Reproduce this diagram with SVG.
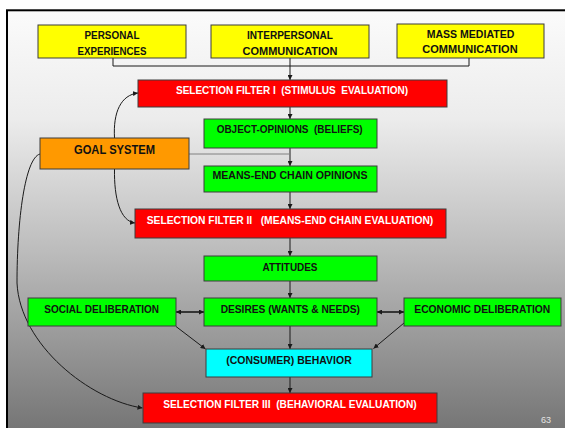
<svg xmlns="http://www.w3.org/2000/svg" width="565" height="428" viewBox="0 0 565 428">
  <defs>
    <linearGradient id="bg" x1="0" y1="10" x2="0" y2="428" gradientUnits="userSpaceOnUse">
      <stop offset="0" stop-color="#fbfbfb"/>
      <stop offset="0.26" stop-color="#ececec"/>
      <stop offset="0.57" stop-color="#bdbdbd"/>
      <stop offset="1" stop-color="#767676"/>
    </linearGradient>
    <marker id="arr" viewBox="0 0 10 10" refX="10" refY="5" markerWidth="5" markerHeight="5" orient="auto-start-reverse" markerUnits="userSpaceOnUse">
      <path d="M0,0 L10,5 L0,10 Z" fill="#1a1a1a"/>
    </marker>
    <style>
      .box { stroke: #3c3c3c; stroke-width: 1; }
      .yellow { fill: #ffff00; }
      .red { fill: #ff0000; }
      .green { fill: #00ff00; }
      .orange { fill: #ff9900; }
      .cyan { fill: #00ffff; }
      text { font-family: "Liberation Sans", Arial, sans-serif; font-weight: bold; font-size: 10.8px; text-anchor: middle; }
      .dark { fill: #111111; }
      .light { fill: #ffffff; }
      .link { fill: none; stroke: #1a1a1a; stroke-width: 1; }
      .thick { stroke-width: 1.6; }
      .grey { stroke: #808080; }
    </style>
  </defs>

  <!-- slide frame -->
  <rect x="0" y="0" width="565" height="428" fill="#ffffff"/>
  <rect x="7" y="10.3" width="600" height="500" fill="url(#bg)" stroke="#000000" stroke-width="2"/>

  <!-- connectors -->
  <g id="connectors">
    <path class="link" d="M113,58 V66 H469 V58"/>
    <path class="link" d="M290,58 V80" marker-end="url(#arr)"/>
    <path class="link" d="M290,107 V119" marker-end="url(#arr)"/>
    <path class="link" d="M290,148 V166" marker-end="url(#arr)"/>
    <path class="link grey" d="M189,154 H290"/>
    <path class="link" d="M290,192 V209" marker-end="url(#arr)"/>
    <path class="link" d="M290,238 V256" marker-end="url(#arr)"/>
    <path class="link" d="M290,281 V298" marker-end="url(#arr)"/>
    <path class="link" d="M290,326 V349" marker-end="url(#arr)"/>
    <path class="link" d="M290,377 V393" marker-end="url(#arr)"/>
    <path class="link thick" d="M176,312 H204" marker-start="url(#arr)" marker-end="url(#arr)"/>
    <path class="link thick" d="M377,312 H404" marker-start="url(#arr)" marker-end="url(#arr)"/>
    <path class="link" d="M176,326.5 L205.5,349" marker-end="url(#arr)"/>
    <path class="link" d="M404,323 L373.5,348.5" marker-end="url(#arr)"/>
    <path class="link" d="M114.5,138 C113,112 121,95 138,93" marker-end="url(#arr)"/>
    <path class="link" d="M114.5,169 C114,198 120,221 135,223" marker-end="url(#arr)"/>
    <path class="link" d="M40,154 C25,158 17,220 17,283 C20,345 90,400 142.5,408" marker-end="url(#arr)"/>
  </g>

  <!-- sources -->
  <g id="personal-experiences">
    <rect class="box yellow" x="38" y="25" width="148" height="33"/>
    <text class="dark" x="112" y="39.3" textLength="55" lengthAdjust="spacingAndGlyphs">PERSONAL</text>
    <text class="dark" x="112" y="55" textLength="69" lengthAdjust="spacingAndGlyphs">EXPERIENCES</text>
  </g>
  <g id="interpersonal-communication">
    <rect class="box yellow" x="211" y="25" width="158" height="33"/>
    <text class="dark" x="290" y="39.3" textLength="86" lengthAdjust="spacingAndGlyphs">INTERPERSONAL</text>
    <text class="dark" x="290" y="55" textLength="95" lengthAdjust="spacingAndGlyphs">COMMUNICATION</text>
  </g>
  <g id="mass-mediated-communication">
    <rect class="box yellow" x="397" y="24" width="147" height="34"/>
    <text class="dark" x="470.5" y="37.7" textLength="87.6" lengthAdjust="spacingAndGlyphs">MASS MEDIATED</text>
    <text class="dark" x="470" y="53.3" textLength="95.3" lengthAdjust="spacingAndGlyphs">COMMUNICATION</text>
  </g>

  <!-- filters and stages -->
  <g id="selection-filter-1">
    <rect class="box red" x="138" y="80" width="309" height="27"/>
    <text class="light" x="292" y="94.3" textLength="232" lengthAdjust="spacingAndGlyphs" xml:space="preserve">SELECTION FILTER I  (STIMULUS  EVALUATION)</text>
  </g>
  <g id="object-opinions">
    <rect class="box green" x="204" y="119" width="173" height="29"/>
    <text class="dark" x="289.7" y="133.3" textLength="146" lengthAdjust="spacingAndGlyphs" xml:space="preserve">OBJECT-OPINIONS  (BELIEFS)</text>
  </g>
  <g id="goal-system">
    <rect class="box orange" x="40" y="138" width="149" height="31"/>
    <text class="dark" x="114.5" y="154.3" style="font-size:13.5px" textLength="81" lengthAdjust="spacingAndGlyphs">GOAL SYSTEM</text>
  </g>
  <g id="means-end-chain-opinions">
    <rect class="box green" x="204" y="166" width="173" height="26"/>
    <text class="dark" x="290" y="179.3" textLength="155" lengthAdjust="spacingAndGlyphs">MEANS-END CHAIN OPINIONS</text>
  </g>
  <g id="selection-filter-2">
    <rect class="box red" x="135" y="209" width="311" height="29"/>
    <text class="light" x="290" y="224" textLength="286.6" lengthAdjust="spacingAndGlyphs" xml:space="preserve">SELECTION FILTER II   (MEANS-END CHAIN EVALUATION)</text>
  </g>
  <g id="attitudes">
    <rect class="box green" x="204" y="256" width="173" height="25"/>
    <text class="dark" x="290" y="271" textLength="55" lengthAdjust="spacingAndGlyphs">ATTITUDES</text>
  </g>
  <g id="social-deliberation">
    <rect class="box green" x="28" y="298" width="148" height="28"/>
    <text class="dark" x="101.7" y="313.3" textLength="114.7" lengthAdjust="spacingAndGlyphs">SOCIAL DELIBERATION</text>
  </g>
  <g id="desires">
    <rect class="box green" x="204" y="298" width="173" height="28"/>
    <text class="dark" x="290.3" y="313.3" textLength="139.3" lengthAdjust="spacingAndGlyphs">DESIRES (WANTS &amp; NEEDS)</text>
  </g>
  <g id="economic-deliberation">
    <rect class="box green" x="404" y="298" width="157" height="28"/>
    <text class="dark" x="482.3" y="313.3" textLength="136" lengthAdjust="spacingAndGlyphs">ECONOMIC DELIBERATION</text>
  </g>
  <g id="consumer-behavior">
    <rect class="box cyan" x="206" y="349" width="166" height="28"/>
    <text class="dark" x="289" y="364" textLength="125.4" lengthAdjust="spacingAndGlyphs">(CONSUMER) BEHAVIOR</text>
  </g>
  <g id="selection-filter-3">
    <rect class="box red" x="143" y="393" width="294" height="30"/>
    <text class="light" x="290" y="408.3" textLength="253.4" lengthAdjust="spacingAndGlyphs" xml:space="preserve">SELECTION FILTER III  (BEHAVIORAL EVALUATION)</text>
  </g>

  <!-- page number -->
  <text x="546" y="422.7" style="font-weight:normal;font-size:9px;fill:#e4e4e4">63</text>
</svg>
